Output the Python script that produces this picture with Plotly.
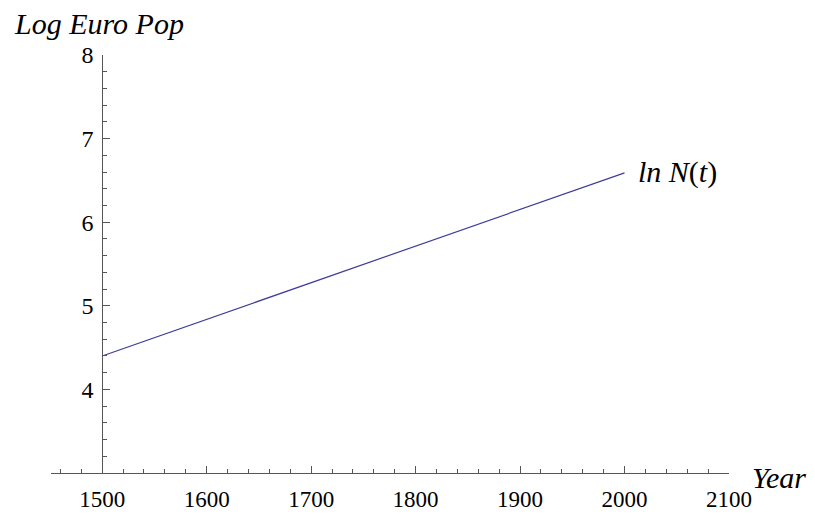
import plotly.graph_objects as go

# Log of European population against year
years = [1500, 2000]
log_pop = [4.40, 6.59]

x_ticks = [1500, 1600, 1700, 1800, 1900, 2000, 2100]
y_ticks = [4, 5, 6, 7, 8]

x_range = [1451, 2100]
y_range = [3, 8]

serif = "Liberation Serif"
axis_col = "#555555"

fig = go.Figure()
fig.add_trace(go.Scatter(
    x=years, y=log_pop, mode="lines",
    line=dict(color="#3d3d99", width=1.2),
    showlegend=False, hoverinfo="skip",
))

yaxis_pos = (1500 - x_range[0]) / (x_range[1] - x_range[0])

fig.update_layout(
    width=815, height=514,
    margin=dict(l=51, r=86, t=55, b=41, autoexpand=False),
    paper_bgcolor="white", plot_bgcolor="white",
    font=dict(family=serif, size=23, color="black"),
    xaxis=dict(
        range=x_range, tickvals=x_ticks, showgrid=False, zeroline=False,
        showline=True, linecolor=axis_col, linewidth=1, automargin=False,
        ticks="inside", ticklen=7, tickcolor=axis_col, tickwidth=1,
        minor=dict(dtick=20, tick0=1500, ticks="inside", ticklen=4,
                   tickcolor=axis_col, showgrid=False),
        tickfont=dict(family=serif, size=23),
        ticklabelstandoff=5,
    ),
    yaxis=dict(
        range=y_range, tickvals=y_ticks, showgrid=False, zeroline=False,
        showline=True, linecolor=axis_col, linewidth=1, automargin=False,
        anchor="free", position=yaxis_pos, side="left",
        ticks="inside", ticklen=7, tickcolor=axis_col, tickwidth=1,
        minor=dict(dtick=0.2, tick0=3, ticks="inside", ticklen=4,
                   tickcolor=axis_col, showgrid=False),
        tickfont=dict(family=serif, size=24),
        ticklabelstandoff=4,
    ),
    annotations=[
        dict(text="<i>Log Euro Pop</i>", xref="paper", yref="paper",
             x=-0.058, y=1.0, xanchor="left", yanchor="bottom", yshift=13,
             showarrow=False, font=dict(family=serif, size=30)),
        dict(text="<i>Year</i>", xref="paper", yref="y",
             x=1.0, y=3, xanchor="left", yanchor="middle", xshift=21, yshift=-4,
             showarrow=False, font=dict(family=serif, size=30)),
        dict(text="<i>ln N</i>(<i>t</i>)", xref="x", yref="y",
             x=years[-1], y=log_pop[-1], xanchor="left", yanchor="middle",
             xshift=11, yshift=1, showarrow=False, font=dict(family=serif, size=30)),
    ],
)

fig.write_html("out.html")
